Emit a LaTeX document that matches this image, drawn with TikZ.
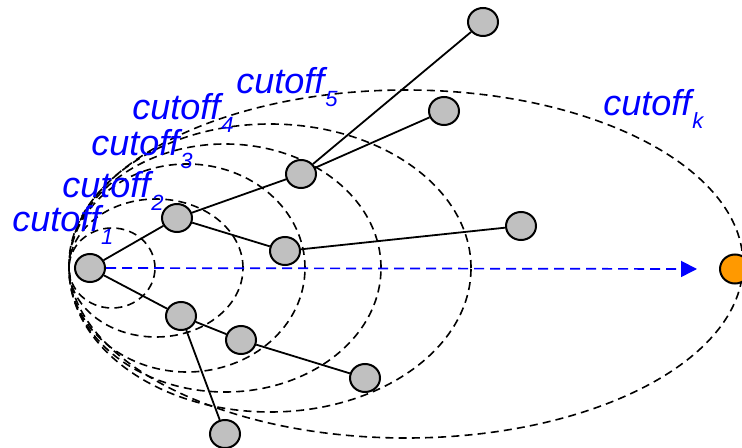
\documentclass[tikz,border=0pt]{standalone}
\usepackage{fontspec}
\setmainfont{Liberation Sans}
\usetikzlibrary{shapes.geometric,arrows.meta,backgrounds}
\definecolor{nodegray}{RGB}{192,192,192}
\definecolor{orng}{RGB}{255,153,0}
\definecolor{lblblue}{RGB}{0,0,255}
\newcommand{\cutsub}[1]{\kern0.4pt\raisebox{-6.5pt}{\fontsize{11}{12}\selectfont #1}}
\begin{document}
\begin{tikzpicture}[x=0.5pt,y=-0.5pt,
  vtx/.style={ellipse, draw=black, line width=1pt, fill=nodegray, minimum width=15pt, minimum height=14pt, inner sep=0pt},
  target/.style={ellipse, draw=black, line width=1pt, fill=orng, minimum width=15pt, minimum height=14.5pt, inner sep=0pt},
  edge/.style={draw=black, line width=0.9pt},
  cut/.style={draw=black, line width=0.8pt, dash pattern=on 4pt off 2.6pt},
  probe/.style={draw=lblblue, line width=0.85pt, dash pattern=on 5pt off 3pt, -{Triangle[length=8pt,width=8pt]}},
  lbl/.style={text=lblblue, font=\fontsize{18}{20}\selectfont\itshape, anchor=base west, inner sep=0pt}]
\useasboundingbox (0,0) rectangle (742,448);
% vertices
\node[vtx] (r) at (90,268) {};
\node[vtx] (a) at (177,218) {};
\node[vtx] (b) at (301,174) {};
\node[vtx] (c) at (285,251) {};
\node[vtx] (d) at (181,316) {};
\node[vtx] (e) at (241,340) {};
\node[vtx] (f) at (365,378) {};
\node[vtx] (g) at (225,434) {};
\node[vtx] (h) at (483,22) {};
\node[vtx] (i) at (444,111) {};
\node[vtx] (j) at (521,226) {};
\node[target] (k) at (735,269) {};
\coordinate (tip) at (697,269);
\begin{scope}[on background layer]
  \draw[cut] (112,268) ellipse [x radius=21.5pt, y radius=20pt];
  \draw[cut] (156,268) ellipse [x radius=43.5pt, y radius=34.5pt];
  \draw[cut] (187,268) ellipse [x radius=59pt, y radius=52pt];
  \draw[cut] (225,268) ellipse [x radius=78pt, y radius=62pt];
  \draw[cut] (270,268) ellipse [x radius=100.5pt, y radius=72pt];
  \draw[cut] (406,264) ellipse [x radius=168.5pt, y radius=87pt];
  \draw[edge] (r) -- (a);
  \draw[edge] (a) -- (b);
  \draw[edge] (a) -- (c);
  \draw[edge] (r) -- (d);
  \draw[edge] (d) -- (e);
  \draw[edge] (e) -- (f);
  \draw[edge] (d) -- (g);
  \draw[edge] (b) -- (h);
  \draw[edge] (b) -- (i);
  \draw[edge] (c) -- (j);
  \draw[probe] (r.east) -- (tip);
\end{scope}
% labels
\node[lbl] (l1) at (12,232) {cutoff\cutsub{1}};
\node[lbl] (l2) at (62,198) {cutoff\cutsub{2}};
\node[lbl] (l3) at (91,156) {cutoff\cutsub{3}};
\node[lbl] (l4) at (132,120) {cutoff\cutsub{4}};
\node[lbl] (l5) at (236,94) {cutoff\cutsub{5}};
\node[lbl] (lk) at (603,116) {cutoff\cutsub{k}};
\end{tikzpicture}
\end{document}
